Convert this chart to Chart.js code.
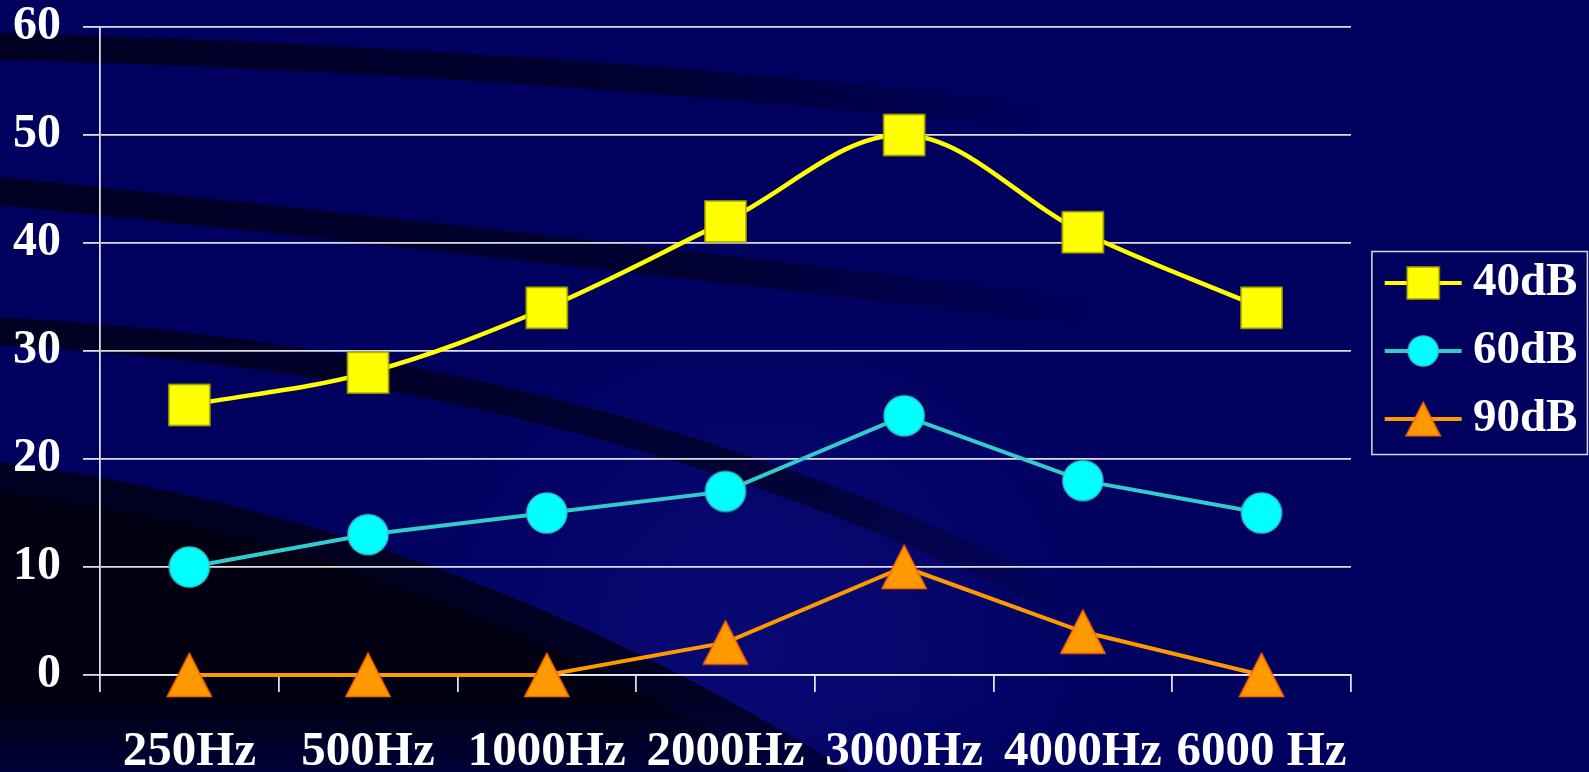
<!DOCTYPE html>
<html>
<head>
<meta charset="utf-8">
<script src="https://cdn.jsdelivr.net/npm/chart.js@4.4.1/dist/chart.umd.min.js"></script>
<style>
  html, body { margin: 0; padding: 0; background: #00005e; overflow: hidden; }
  #wrap { width: 1589px; height: 772px; position: relative; }
</style>
</head>
<body>
<div id="wrap"><canvas id="chart"></canvas></div>
<script>
// chart data
const freqLabels = ['250Hz', '500Hz', '1000Hz', '2000Hz', '3000Hz', '4000Hz', '6000 Hz'];
const seriesNames = ['40dB', '60dB', '90dB'];
const db40 = [25, 28, 34, 42, 50, 41, 34];
const db60 = [10, 13, 15, 17, 24, 18, 15];
const db90 = [0, 0, 0, 3, 10, 4, 0];
const yMin = 0, yMax = 60, yStep = 10;

const gridColor = 'rgba(240,240,240,0.92)';

// draw one marker shape centred on cx, cy
function drawShape(ctx, kind, cx, cy, s, fill, edge) {
    ctx.fillStyle = fill;
    ctx.strokeStyle = edge;
    ctx.lineWidth = 1.5;
    ctx.beginPath();
    if (kind === 'square') {
        ctx.rect(cx - s / 2, cy - s / 2, s, s);
    } else if (kind === 'circle') {
        ctx.arc(cx, cy, s / 2, 0, Math.PI * 2);
    } else {
        const h = s * 0.98;
        ctx.moveTo(cx, cy - h / 2);
        ctx.lineTo(cx + s / 2, cy + h / 2);
        ctx.lineTo(cx - s / 2, cy + h / 2);
        ctx.closePath();
    }
    ctx.fill();
    ctx.stroke();
}

function makeDot(kind, s, fill, edge) {
    const c = document.createElement('canvas');
    c.width = s + 4;
    c.height = s + 4;
    drawShape(c.getContext('2d'), kind, c.width / 2, c.height / 2, s, fill, edge);
    return c;
}

// legend key: line with marker, content pushed right of the canvas centre
function makeKey(kind, s, fill, edge, lineColor) {
    const c = document.createElement('canvas');
    c.width = 104;
    c.height = 44;
    const ctx = c.getContext('2d');
    ctx.strokeStyle = lineColor;
    ctx.lineWidth = 4;
    ctx.beginPath();
    ctx.moveTo(26, 22);
    ctx.lineTo(103, 22);
    ctx.stroke();
    drawShape(ctx, kind, 64.5, 22, s, fill, edge);
    return c;
}

const dots = [
    makeDot('square', 41, '#ffff00', '#a6a600'),
    makeDot('circle', 40, '#00ffff', '#33c6c6'),
    makeDot('triangle', 44, '#ff9900', '#ff6600')
];
const keys = [
    makeKey('square', 32, '#ffff00', '#a6a600', '#ffff00'),
    makeKey('circle', 30, '#00ffff', '#33c6c6', '#33cccc'),
    makeKey('triangle', 34, '#ff9900', '#ff6600', '#ff9900')
];

// slide background with the dark swooshes
const backdrop = {
    id: 'backdrop',
    beforeDraw(chart) {
        const ctx = chart.ctx;
        const w = chart.width, h = chart.height;
        ctx.save();
        ctx.fillStyle = '#00005e';
        ctx.fillRect(0, 0, w, h);

        const glow = ctx.createRadialGradient(760, 650, 0, 760, 650, 420);
        glow.addColorStop(0, 'rgba(30,30,170,0.3)');
        glow.addColorStop(1, 'rgba(30,30,170,0)');
        ctx.fillStyle = glow;
        ctx.fillRect(0, 0, w, h);

        function band(x0, y0, cx, cy, x1, y1, width, fadeFrom, fadeTo) {
            const g = ctx.createLinearGradient(0, 0, fadeTo, 0);
            g.addColorStop(0, 'rgba(0,0,20,0.8)');
            g.addColorStop(fadeFrom / fadeTo, 'rgba(0,0,20,0.6)');
            g.addColorStop(1, 'rgba(0,0,20,0)');
            ctx.strokeStyle = g;
            ctx.lineWidth = width;
            ctx.beginPath();
            ctx.moveTo(x0, y0);
            ctx.quadraticCurveTo(cx, cy, x1, y1);
            ctx.stroke();
        }
        band(-10, 46, 600, 62, 1150, 130, 27, 650, 1050);
        band(-10, 190, 600, 252, 1150, 320, 28, 700, 1100);
        band(-10, 331, 600, 360, 1100, 620, 28, 800, 1100);

        ctx.fillStyle = 'rgba(0,0,22,0.85)';
        ctx.beginPath();
        ctx.moveTo(0, 462);
        ctx.quadraticCurveTo(450, 520, 850, 772);
        ctx.lineTo(0, 772);
        ctx.closePath();
        ctx.fill();

        ctx.fillStyle = 'rgba(0,0,8,0.55)';
        ctx.beginPath();
        ctx.moveTo(0, 492);
        ctx.quadraticCurveTo(420, 545, 780, 772);
        ctx.lineTo(0, 772);
        ctx.closePath();
        ctx.fill();

        const fade = ctx.createLinearGradient(0, 700, 0, 772);
        fade.addColorStop(0, 'rgba(0,0,94,0)');
        fade.addColorStop(1, 'rgba(0,0,94,0.5)');
        ctx.fillStyle = fade;
        ctx.fillRect(0, 700, w, 72);
        ctx.restore();
    }
};

// frame around the legend
const legendFrame = {
    id: 'legendFrame',
    afterDraw(chart) {
        const boxes = chart.legend && chart.legend.legendHitBoxes;
        if (!boxes || !boxes.length) return;
        const first = boxes[0], last = boxes[boxes.length - 1];
        let right = 0;
        boxes.forEach(b => { right = Math.max(right, b.left + b.width); });
        const ctx = chart.ctx;
        ctx.save();
        ctx.strokeStyle = '#d9d9d9';
        ctx.lineWidth = 1.5;
        ctx.strokeRect(first.left, first.top - 8, right + 10 - first.left, last.top + last.height + 20 - first.top);
        ctx.restore();
    }
};

Chart.defaults.font.family = '"Liberation Serif", "Times New Roman", serif';
Chart.defaults.font.weight = 'bold';
Chart.defaults.font.size = 47;
Chart.defaults.color = '#ffffff';

const lineColors = ['#ffff00', '#33cccc', '#ff9900'];
const values = [db40, db60, db90];

const datasets = seriesNames.map((name, i) => ({
    label: name,
    data: values[i],
    borderColor: lineColors[i],
    backgroundColor: lineColors[i],
    borderWidth: i === 0 ? 4.5 : 4,
    tension: i === 0 ? 0.35 : 0,
    pointStyle: dots[i],
    pointRadius: 20,
    pointHoverRadius: 20,
    clip: false
}));

new Chart(document.getElementById('chart'), {
    type: 'line',
    data: { labels: freqLabels, datasets: datasets },
    options: {
        responsive: true,
        maintainAspectRatio: false,
        animation: false,
        devicePixelRatio: 1,
        layout: { padding: { left: 13, right: 1.6, top: 27, bottom: 0 } },
        plugins: {
            tooltip: { enabled: false },
            legend: {
                position: 'right',
                fullSize: false,
                labels: {
                    usePointStyle: true,
                    pointStyleWidth: 77.5,
                    padding: 21,
                    color: '#ffffff',
                    font: { size: 47, weight: 'bold', lineHeight: 1 },
                    generateLabels(chart) {
                        const items = Chart.defaults.plugins.legend.labels.generateLabels(chart);
                        items.forEach((it, i) => { it.pointStyle = keys[i]; });
                        return items;
                    }
                }
            }
        },
        scales: {
            x: {
                offset: true,
                afterFit(scale) { scale.height = 97; },
                grid: {
                    display: true,
                    offset: true,
                    drawOnChartArea: false,
                    tickLength: 17,
                    color: gridColor,
                    lineWidth: 1.8
                },
                border: { display: true, color: gridColor, width: 1.8 },
                ticks: {
                    autoSkip: false,
                    maxRotation: 0,
                    minRotation: 0,
                    padding: 36,
                    font: { size: 49, weight: 'bold', lineHeight: 1 }
                }
            },
            y: {
                min: yMin,
                max: yMax,
                afterFit(scale) {
                    scale.width = 87;
                    scale.paddingTop = 24;
                    scale.paddingBottom = 24;
                },
                grid: {
                    color: gridColor,
                    lineWidth: 1.8,
                    tickLength: 17
                },
                border: { display: true, color: gridColor, width: 1.8 },
                ticks: {
                    stepSize: yStep,
                    padding: 22,
                    font: { size: 48, weight: 'bold', lineHeight: 1 }
                }
            }
        }
    },
    plugins: [backdrop, legendFrame]
});
</script>
</body>
</html>
